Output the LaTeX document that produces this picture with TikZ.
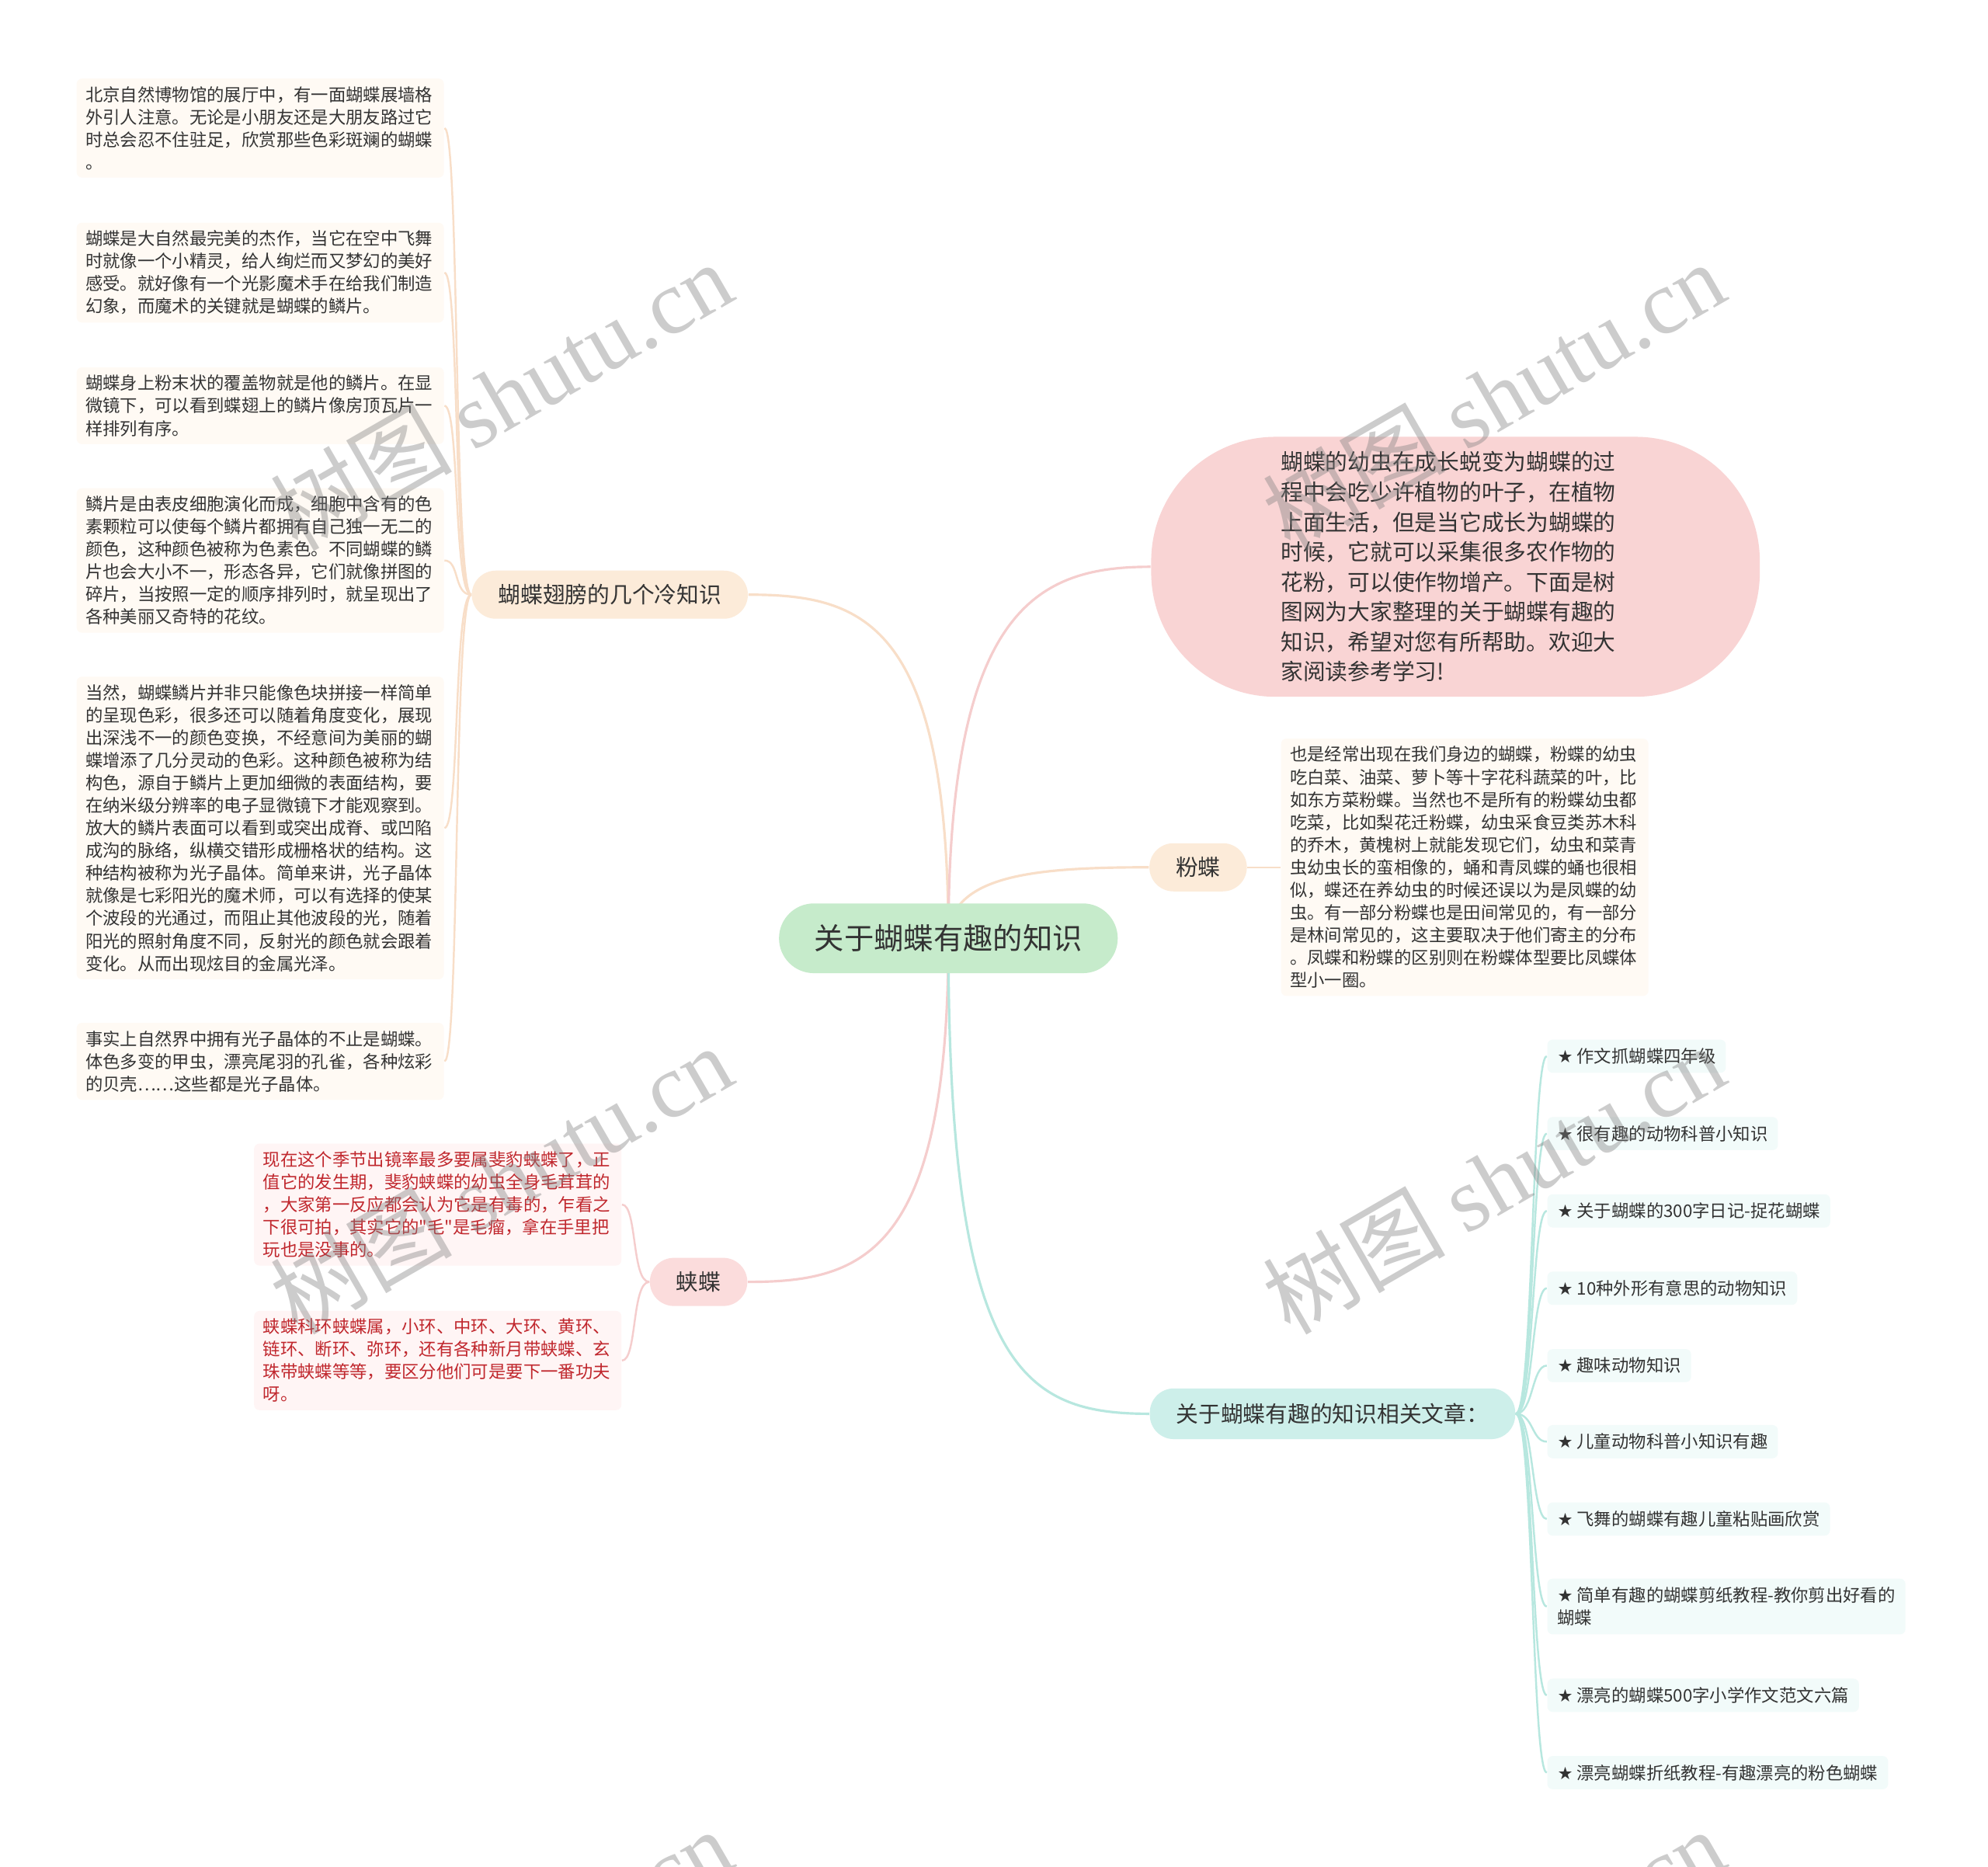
\documentclass[tikz,border=0pt]{standalone}
\usepackage{fontspec}
\setmainfont{Noto Sans CJK SC}[Ligatures=TeXOff]
\newfontfamily\wmlatin{Liberation Serif}
\newfontfamily\symfont{DejaVu Sans}
\usetikzlibrary{backgrounds}

\definecolor{ink}{HTML}{333333}
\definecolor{redtext}{HTML}{C0272D}
\definecolor{ctrgreen}{HTML}{C6EBCB}
\definecolor{peach}{HTML}{FCEBD9}
\definecolor{intropink}{HTML}{F9D4D4}
\definecolor{jdpink}{HTML}{FBDCDC}
\definecolor{linkteal}{HTML}{CDEFEA}
\definecolor{creamleaf}{HTML}{FFFAF4}
\definecolor{pinkleaf}{HTML}{FFF5F5}
\definecolor{tealleaf}{HTML}{F2FBFA}
\definecolor{peachline}{HTML}{F8DEC8}
\definecolor{pinkline}{HTML}{F5CDCD}
\definecolor{tealline}{HTML}{B7E7DF}

\newcommand{\leaffont}{\fontsize{6.36}{8.27}\selectfont}
\newcommand{\branchfont}{\fontsize{8.18}{10.96}\selectfont}
\newcommand{\ctrfont}{\fontsize{10.9}{13}\selectfont}
\newcommand{\wmsize}{\fontsize{33.4}{33.4}\selectfont}

\begin{document}
\begin{tikzpicture}[x=0.016327cm, y=-0.016327cm,
  leaf/.style={anchor=west, fill=#1, rounded corners=0.07cm, text width=4.5cm, align=left,
    inner xsep=0.115cm, inner ysep=0.1cm, font=\leaffont, text=ink},
  pill/.style={fill=#1, rounded corners=0.31cm, minimum height=0.62cm, inner xsep=0.34cm,
    font=\branchfont, text=ink},
  item/.style={anchor=west, fill=tealleaf, rounded corners=0.07cm, align=left,
    inner xsep=0.13cm, inner ysep=0.11cm, font=\leaffont, text=ink},
  link/.style={draw=#1, line width=0.9pt},
  twig/.style={draw=#1, line width=0.7pt},
  wmark/.style={rotate=30, text=gray, text opacity=0.4, font=\wmsize}
]
  \useasboundingbox (0,0) rectangle (1568,1472);

  % root
  \node[pill=ctrgreen, minimum height=0.898cm, rounded corners=0.449cm, inner xsep=0.457cm,
    font=\ctrfont] (ctr) at (748,740) {关于蝴蝶有趣的知识};

  % branches
  \node[pill=peach] (wing) at (481,469) {蝴蝶翅膀的几个冷知识};
  \node[pill=peach] (fendie) at (945,684) {粉蝶};
  \node[pill=jdpink] (jiadie) at (551,1011) {蛱蝶};
  \node[pill=linkteal, minimum height=0.653cm] (links) at (1051,1115) {关于蝴蝶有趣的知识相关文章：};
  \node[fill=intropink, rounded corners=1.6cm, minimum width=7.837cm, minimum height=3.347cm,
    text width=4.5cm, align=left, font=\branchfont, text=ink] (intro) at (1148,447)
    {蝴蝶的幼虫在成长蜕变为蝴蝶的过\\程中会吃少许植物的叶子，在植物\\上面生活，但是当它成长为蝴蝶的\\时候，它就可以采集很多农作物的\\花粉，可以使作物增产。下面是树\\图网为大家整理的关于蝴蝶有趣的\\知识，希望对您有所帮助。欢迎大\\家阅读参考学习!};

  % wing facts
  \node[leaf=creamleaf] (w1) at (60,101)
    {北京自然博物馆的展厅中，有一面蝴蝶展墙格\\外引人注意。无论是小朋友还是大朋友路过它\\时总会忍不住驻足，欣赏那些色彩斑斓的蝴蝶\\。};
  \node[leaf=creamleaf] (w2) at (60,215)
    {蝴蝶是大自然最完美的杰作，当它在空中飞舞\\时就像一个小精灵，给人绚烂而又梦幻的美好\\感受。就好像有一个光影魔术手在给我们制造\\幻象，而魔术的关键就是蝴蝶的鳞片。};
  \node[leaf=creamleaf] (w3) at (60,320)
    {蝴蝶身上粉末状的覆盖物就是他的鳞片。在显\\微镜下，可以看到蝶翅上的鳞片像房顶瓦片一\\样排列有序。};
  \node[leaf=creamleaf] (w4) at (60,442)
    {鳞片是由表皮细胞演化而成，细胞中含有的色\\素颗粒可以使每个鳞片都拥有自己独一无二的\\颜色，这种颜色被称为色素色。不同蝴蝶的鳞\\片也会大小不一，形态各异，它们就像拼图的\\碎片，当按照一定的顺序排列时，就呈现出了\\各种美丽又奇特的花纹。};
  \node[leaf=creamleaf] (w5) at (60,653)
    {当然，蝴蝶鳞片并非只能像色块拼接一样简单\\的呈现色彩，很多还可以随着角度变化，展现\\出深浅不一的颜色变换，不经意间为美丽的蝴\\蝶增添了几分灵动的色彩。这种颜色被称为结\\构色，源自于鳞片上更加细微的表面结构，要\\在纳米级分辨率的电子显微镜下才能观察到。\\放大的鳞片表面可以看到或突出成脊、或凹陷\\成沟的脉络，纵横交错形成栅格状的结构。这\\种结构被称为光子晶体。简单来讲，光子晶体\\就像是七彩阳光的魔术师，可以有选择的使某\\个波段的光通过，而阻止其他波段的光，随着\\阳光的照射角度不同，反射光的颜色就会跟着\\变化。从而出现炫目的金属光泽。};
  \node[leaf=creamleaf] (w6) at (60,837)
    {事实上自然界中拥有光子晶体的不止是蝴蝶。\\体色多变的甲虫，漂亮尾羽的孔雀，各种炫彩\\的贝壳……这些都是光子晶体。};

  % pieridae
  \node[leaf=creamleaf] (fd1) at (1010,684)
    {也是经常出现在我们身边的蝴蝶，粉蝶的幼虫\\吃白菜、油菜、萝卜等十字花科蔬菜的叶，比\\如东方菜粉蝶。当然也不是所有的粉蝶幼虫都\\吃菜，比如梨花迁粉蝶，幼虫采食豆类苏木科\\的乔木，黄槐树上就能发现它们，幼虫和菜青\\虫幼虫长的蛮相像的，蛹和青凤蝶的蛹也很相\\似，蝶还在养幼虫的时候还误以为是凤蝶的幼\\虫。有一部分粉蝶也是田间常见的，有一部分\\是林间常见的，这主要取决于他们寄主的分布\\。凤蝶和粉蝶的区别则在粉蝶体型要比凤蝶体\\型小一圈。};

  % nymphalidae
  \node[leaf=pinkleaf, text=redtext] (jd1) at (200,950)
    {现在这个季节出镜率最多要属斐豹蛱蝶了，正\\值它的发生期，斐豹蛱蝶的幼虫全身毛茸茸的\\，大家第一反应都会认为它是有毒的，乍看之\\下很可拍，其实它的"毛"是毛瘤，拿在手里把\\玩也是没事的。};
  \node[leaf=pinkleaf, text=redtext] (jd2) at (200,1073)
    {蛱蝶科环蛱蝶属，小环、中环、大环、黄环、\\链环、断环、弥环，还有各种新月带蛱蝶、玄\\珠带蛱蝶等等，要区分他们可是要下一番功夫\\呀。};

  % related articles
  \foreach \i/\yy/\t in {1/833/{作文抓蝴蝶四年级}, 2/894/{很有趣的动物科普小知识},
      3/955/{关于蝴蝶的300字日记-捉花蝴蝶}, 4/1016/{10种外形有意思的动物知识},
      5/1077/{趣味动物知识}, 6/1137/{儿童动物科普小知识有趣},
      7/1198/{飞舞的蝴蝶有趣儿童粘贴画欣赏},
      8/1267/{简单有趣的蝴蝶剪纸教程-教你剪出好看的\\蝴蝶},
      9/1337/{漂亮的蝴蝶500字小学作文范文六篇}, 10/1398/{漂亮蝴蝶折纸教程-有趣漂亮的粉色蝴蝶}}
    \node[item] (a\i) at (1220,\yy) {{\symfont ★} \t};

  % connectors behind the boxes
  \begin{scope}[on background layer]
    \fill[white] (0,0) rectangle (1568,1472);
    \draw[link=peachline] (ctr.center) .. controls +(0,-250) and +(90,0) .. (wing.east);
    \draw[link=pinkline] (ctr.center) .. controls +(0,-260) and +(-90,0) .. (intro.west);
    \draw[link=peachline] (ctr.center) .. controls +(0,-50) and +(-90,0) .. (fendie.west);
    \draw[link=pinkline] (ctr.center) .. controls +(0,250) and +(90,0) .. (jiadie.east);
    \draw[link=tealline] (ctr.center) .. controls +(0,340) and +(-100,0) .. (links.west);
    \foreach \i in {1,...,6}
      \draw[twig=peachline] (wing.west) .. controls +(-14,0) and +(12,0) .. (w\i.east);
    \draw[twig=peachline] (fendie.east) -- (fd1.west);
    \foreach \i in {1,2}
      \draw[twig=pinkline] (jiadie.west) .. controls +(-14,0) and +(12,0) .. (jd\i.east);
    \foreach \i in {1,...,10}
      \draw[twig=tealline] (links.east) .. controls +(14,0) and +(-12,0) .. (a\i.west);
  \end{scope}

  % watermark
  \begin{scope}
    \clip (0,0) rectangle (1568,1472);
    \foreach \wx/\wy [count=\k] in {395/312, 1178/312, 395/930, 1178/930, 395/1548, 1178/1548}
      \node[wmark] (wm\k) at (\wx,\wy) {树图 {\wmlatin shutu.cn}};
  \end{scope}
\end{tikzpicture}
\end{document}
